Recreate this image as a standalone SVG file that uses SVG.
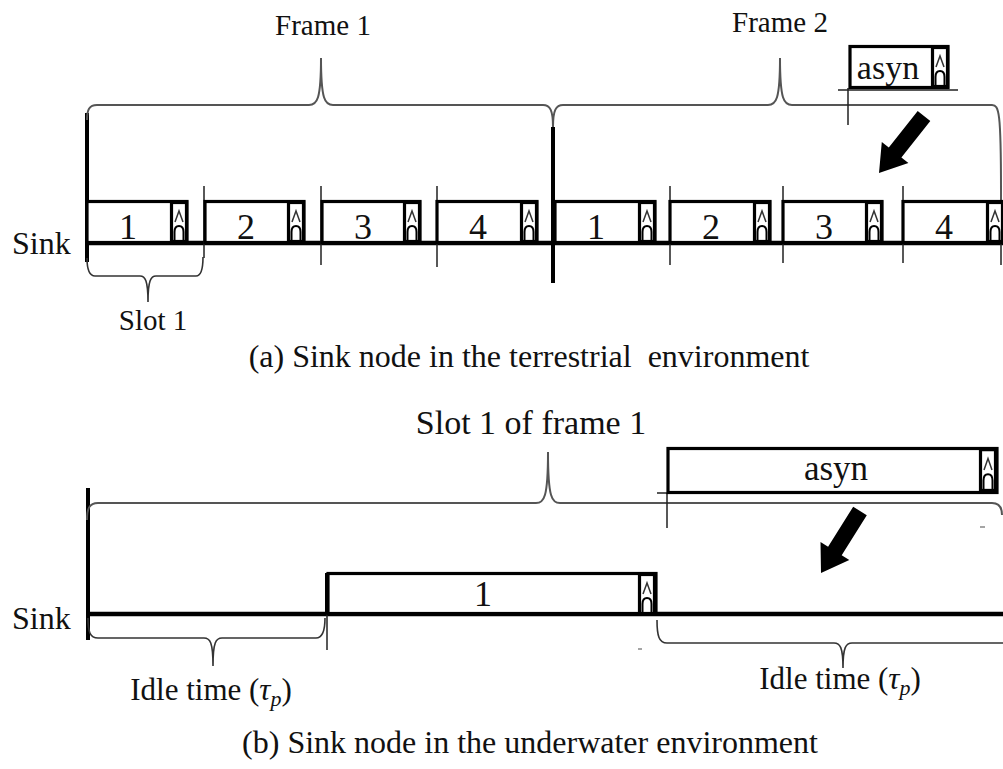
<svg xmlns="http://www.w3.org/2000/svg" xmlns:xlink="http://www.w3.org/1999/xlink" width="1003" height="769" viewBox="0 0 1003 769">
<style>
text{font-family:"Liberation Serif","Times New Roman",serif;fill:#111}
.lbl{font-size:29px}
.big{font-size:32px}
.num{font-size:36px;text-anchor:middle}
.mid{text-anchor:middle}
.box{fill:#fff;stroke:#000;stroke-width:3.2}
.base{stroke:#000;stroke-width:4.5;fill:none}
.thick{stroke:#000;stroke-width:4;fill:none}
.tick{stroke:#222;stroke-width:1.5;fill:none}
.brace{stroke:#555;stroke-width:2;fill:none}
.brace2{stroke:#333;stroke-width:1.6;fill:none}
.arrow{fill:#000}
</style>
<defs>
<g id="ack">
<rect x="1.5" y="1.5" width="15" height="39" fill="#fff" stroke="#000" stroke-width="3.2"/>
<path d="M5,21 L9,10 L13,21" fill="none" stroke="#333" stroke-width="1.5"/>
<path d="M4.5,41 V31 Q4.5,25 9,25 Q13.5,25 13.5,31 V41" fill="none" stroke="#000" stroke-width="2"/>
</g>
</defs>

<g id="connectors">
<!-- part (a) -->
<path class="base" d="M86,243 H1003"/>
<path class="thick" d="M87,113 V262"/>
<path class="thick" d="M553,127 V283"/>
<path class="tick" d="M204,186 V258 M321,186 V265 M437,186 V267 M670,186 V265 M783,186 V263 M903,186 V263 M1001,186 V265"/>
<path class="brace" d="M87,120 C87,110 89,105 97,105 L309,105 C317,105 321,100 321,58 M321,58 C321,100 325,105 333,105 L543,105 C550,105 553,110 553,127"/>
<path class="brace" d="M553,127 C553,110 556,105 563,105 L768,105 C776,105 780,100 780,58 M780,58 C780,100 784,105 792,105 L992,105 C999,105 1001,112 1001,190"/>
<path class="brace2" d="M87,258 C87,270 89,276 95,276 L140,276 C145,276 148,280 148,302 M148,302 C148,280 151,276 156,276 L196,276 C201,276 203,270 203,257"/>
<path class="tick" d="M838,90 H958 M848,88 V125"/>
<polygon class="arrow" points="917.7,111 888.8,147.6 881.8,142.1 879,173 908.4,163.1 901.4,157.6 930.3,121"/>
<!-- part (b) -->
<path class="base" d="M86,614 H1003"/>
<path class="thick" d="M88,488 V640"/>
<path class="thick" d="M327,573 V614"/>
<path class="tick" d="M327,614 V650"/>
<path class="brace" d="M87,520 C87,509 89,503 98,503 L536,503 C544,503 548,498 548,452 M548,452 C548,498 552,503 560,503 L992,503 C999,503 1002,507 1002,515"/>
<path class="tick" d="M657,493 H997 M667,493 V528"/>
<path class="brace2" d="M88,618 C88,632 90,638 98,638 L204,638 C210,638 213,642 213,666 M213,666 C213,642 216,638 222,638 L316,638 C322,638 325,632 325,618"/>
<path class="brace2" d="M657,620 C657,636 659,643 667,643 L834,643 C840,643 843,647 843,668 M843,668 C843,647 846,643 852,643 L1003,643"/>
<polygon class="arrow" points="853.2,506.7 828.1,546.7 820.5,541.9 821,573 849.3,560.1 841.7,555.3 866.8,515.3"/>
<path d="M980,527 H985 M638,649 H642" stroke="#888" stroke-width="1.5"/>
</g>

<g id="frame1-label"><text class="lbl mid" x="323" y="35">Frame 1</text></g>
<g id="frame2-label"><text class="lbl mid" x="780" y="32">Frame 2</text></g>
<g id="sink-a"><text class="big" x="12" y="254">Sink</text></g>

<g id="slot-a1"><rect class="box" x="87" y="201.5" width="100" height="41"/><text class="num" x="128" y="239">1</text><use xlink:href="#ack" x="170" y="201"/></g>
<g id="slot-a2"><rect class="box" x="205" y="201.5" width="99" height="41"/><text class="num" x="246" y="239">2</text><use xlink:href="#ack" x="287" y="201"/></g>
<g id="slot-a3"><rect class="box" x="322" y="201.5" width="98" height="41"/><text class="num" x="363" y="239">3</text><use xlink:href="#ack" x="403" y="201"/></g>
<g id="slot-a4"><rect class="box" x="437" y="201.5" width="100" height="41"/><text class="num" x="478" y="239">4</text><use xlink:href="#ack" x="520" y="201"/></g>
<g id="slot-a5"><rect class="box" x="555" y="201.5" width="100" height="41"/><text class="num" x="596" y="239">1</text><use xlink:href="#ack" x="638" y="201"/></g>
<g id="slot-a6"><rect class="box" x="670" y="201.5" width="100" height="41"/><text class="num" x="711" y="239">2</text><use xlink:href="#ack" x="753" y="201"/></g>
<g id="slot-a7"><rect class="box" x="783" y="201.5" width="99" height="41"/><text class="num" x="824" y="239">3</text><use xlink:href="#ack" x="865" y="201"/></g>
<g id="slot-a8"><rect class="box" x="903" y="201.5" width="102" height="41"/><text class="num" x="944" y="239">4</text><use xlink:href="#ack" x="986" y="201"/></g>

<g id="asyn-a"><rect class="box" x="850" y="46.5" width="98" height="41"/><text class="mid" font-size="34" x="888" y="79">asyn</text><use xlink:href="#ack" x="931" y="46"/></g>

<g id="slot1-label"><text class="lbl mid" font-size="31" x="153" y="330">Slot 1</text></g>
<g id="caption-a"><text class="big mid" x="529" y="367" xml:space="preserve">(a) Sink node in the terrestrial  environment</text></g>

<g id="slot1frame1-label"><text class="mid" font-size="34" x="531" y="434">Slot 1 of frame 1</text></g>
<g id="asyn-b"><rect class="box" x="668" y="448.5" width="329" height="44"/><text class="mid" font-size="35" x="836" y="480">asyn</text><use xlink:href="#ack" x="979" y="448" transform="translate(0,-22.4) scale(1,1.05)"/></g>
<g id="sink-b"><text class="big" x="12" y="629">Sink</text></g>
<g id="slot-b1"><rect class="box" x="328" y="573.5" width="328" height="40"/><text class="num" x="483" y="606">1</text><use xlink:href="#ack" x="638" y="573"/></g>
<g id="idle-left"><text class="mid" font-size="31" x="211" y="700">Idle time (<tspan font-style="italic">τ</tspan><tspan font-style="italic" font-size="22" dy="6">p</tspan><tspan dy="-6">)</tspan></text></g>
<g id="idle-right"><text class="mid" font-size="31" x="840" y="689">Idle time (<tspan font-style="italic">τ</tspan><tspan font-style="italic" font-size="22" dy="6">p</tspan><tspan dy="-6">)</tspan></text></g>
<g id="caption-b"><text class="big mid" x="530" y="753">(b) Sink node in the underwater environment</text></g>
</svg>
